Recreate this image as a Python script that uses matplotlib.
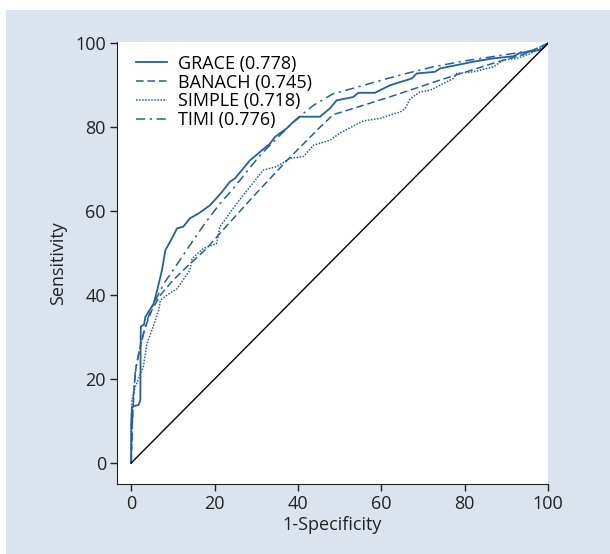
import matplotlib
matplotlib.use("Agg")
import matplotlib.pyplot as plt
from matplotlib.patches import Rectangle

plt.rcParams['font.family'] = ['Open Sans', 'DejaVu Sans']

# ROC curves (1-specificity, sensitivity), in %
grace_x = [0, 0, 0.1, 0.2, 1.75, 2.2, 2.3, 3.1, 3.4, 5.4, 6.2, 7.4, 8.2, 9.5, 11, 12.5,
           14.1, 16.1, 18.9, 21.3, 23.7, 24.9, 28.5, 30.9, 33.3, 34.5, 37.3, 38.5, 40.5,
           45.3, 47.7, 49.3, 53.3, 54.5, 58.5, 62.1, 67.3, 68.5, 72.9, 74.1, 82.1, 86.9,
           91.7, 93.3, 95.7, 98.5, 100]
grace_y = [0, 9.5, 12, 13.5, 13.8, 15, 32.5, 33, 34.8, 38, 41, 46, 50.7, 53, 55.9, 56.3,
           58.3, 59.4, 61.4, 64, 67, 67.8, 72.1, 74.1, 76.1, 77.7, 79.7, 80.9, 82.5,
           82.5, 84.5, 86.4, 87.2, 88.2, 88.2, 90, 91.6, 92.8, 93.2, 94, 95.6, 96.4,
           96.9, 97.7, 98, 98.5, 100]

banach_x = [0, 0.3, 0.7, 1.2, 2, 3, 4, 5, 7, 10, 13.4, 18, 22, 29.3, 37.3, 45.3, 48.5,
            55, 62, 74, 87.7, 94, 100]
banach_y = [0, 10, 18, 23, 27, 31, 34, 36.5, 40, 43.5, 46.8, 51, 55.5, 63.5, 72, 80, 83,
            85, 87.2, 91.2, 95.5, 97.3, 100]

simple_x = [0, 0.2, 1, 2.9, 3.8, 5, 6.6, 7, 8.6, 11, 14.1, 14.6, 17.3, 20.5, 21.3, 25.3,
            28.5, 31.7, 34.9, 38.1, 41.3, 43.7, 47.7, 50.1, 53.3, 55.7, 59.7, 62.1, 64.5,
            65.7, 66.9, 69.3, 71.7, 74.1, 77.3, 78.1, 82.1, 86.9, 89.3, 92.5, 95.7, 98.1,
            100]
simple_y = [0, 15, 18.2, 22.9, 28.5, 31.7, 36.4, 38.8, 40, 41.5, 46, 48.7, 51.1, 52.3,
            56.3, 61.8, 65.8, 69.8, 70.6, 72.6, 73, 75.7, 76.9, 78.6, 80.3, 81.5, 82.1,
            82.9, 83.6, 84.4, 86.8, 88.4, 88.8, 90, 91.6, 92.8, 93.2, 94.4, 96, 96.4,
            97.5, 98.7, 100]

timi_x = [0, 0.3, 0.6, 1, 2, 3, 4, 5, 6.2, 8, 10.1, 14.1, 17.7, 21.3, 24.5, 30.9, 35.3,
          39.7, 43.7, 48.5, 53, 60, 66, 72.5, 80, 88, 96.5, 100]
timi_y = [0, 10, 17, 22, 27, 31, 34.5, 37, 39.5, 43, 46, 51.9, 57.1, 61.8, 65.4, 73.3,
          77.7, 82, 85.2, 88, 89.2, 91.2, 92.8, 94.4, 95.8, 97, 98.3, 100]

labels = ["GRACE (0.778)", "BANACH (0.745)", "SIMPLE (0.718)", "TIMI (0.776)"]
ticks = [0, 20, 40, 60, 80, 100]

blue = "#1f5fa6"
ink = "#222222"
fs = 13

fig = plt.figure(figsize=(6.10, 5.54), dpi=100, facecolor="white")
fig.patches.append(Rectangle((6 / 610, 0), 1, (554 - 10) / 554, transform=fig.transFigure,
                             facecolor="#dbe4ee", edgecolor="none", zorder=-1))
ax = fig.add_axes([117 / 610, 70 / 554, 431 / 610, 442 / 554])
ax.set_facecolor("white")

ax.plot(grace_x, grace_y, color=blue, lw=1.3, ls="-", label=labels[0])
ax.plot(banach_x, banach_y, color=blue, lw=1.1, ls=(0, (5, 2.5)), label=labels[1])
ax.plot(simple_x, simple_y, color=blue, lw=1.1, ls=(0, (1, 1)), label=labels[2])
ax.plot(timi_x, timi_y, color=blue, lw=1.1, ls=(0, (6, 3, 1.5, 3)), label=labels[3])
ax.plot([0, 100], [0, 100], color="black", lw=1)

ax.set_xlim(-3.4, 100)
ax.set_ylim(-5, 100.3)
ax.set_xticks(ticks)
ax.set_yticks(ticks)
ax.tick_params(labelsize=fs, length=5, width=1, color=ink, labelcolor=ink, pad=3)
for s in ["top", "right"]:
    ax.spines[s].set_visible(False)
for s in ["left", "bottom"]:
    ax.spines[s].set_color(ink)

ax.set_xlabel("1-Specificity", fontsize=fs, color=ink, labelpad=2)
ax.set_ylabel("Sensitivity", fontsize=fs, color=ink, labelpad=6)

ax.legend(loc="upper left", frameon=False, fontsize=fs, handlelength=1.7,
          handletextpad=0.6, labelspacing=0.05, borderaxespad=0.3,
          bbox_to_anchor=(0.015, 1.0))

fig.savefig("out.png", dpi=100, facecolor=fig.get_facecolor())
